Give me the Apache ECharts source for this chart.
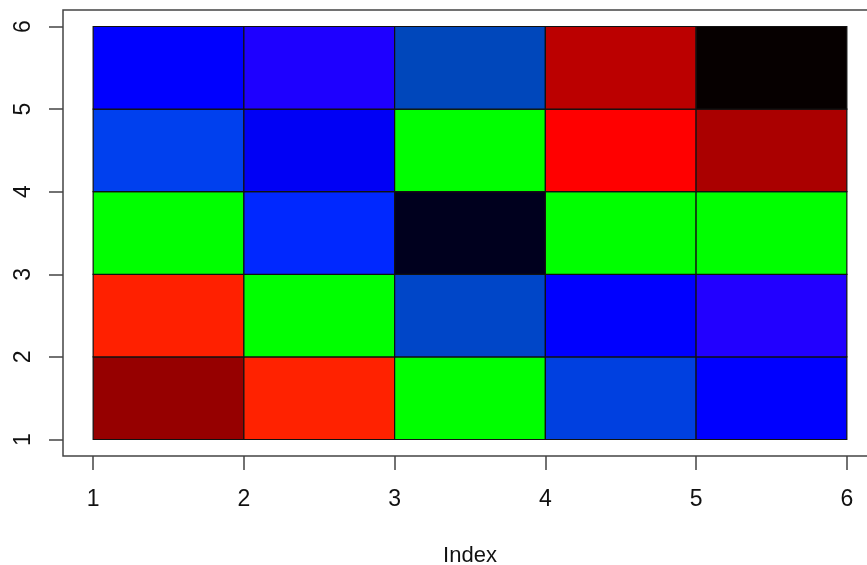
<!DOCTYPE html>
<html>
<head>
<meta charset="utf-8">
<script src="https://cdn.jsdelivr.net/npm/echarts@6/dist/echarts.min.js"></script>
<style>html,body{margin:0;padding:0;background:#fff;}#c{width:867px;height:565px;}</style>
</head>
<body>
<div id="c"></div>
<script>
// Cell edges (index values)
var xEdges = [1, 2, 3, 4, 5, 6];
var yEdges = [1, 2, 3, 4, 5, 6];
// Tick labels
var xTicks = [1, 2, 3, 4, 5, 6];
var yTicks = [1, 2, 3, 4, 5, 6];
// Cell colours, one row per y band from bottom (1-2) to top (5-6), columns left to right
var row1 = ['#960000', '#FF2200', '#00FF00', '#0040E0', '#0000FF'];
var row2 = ['#FF2000', '#00FF00', '#0046C8', '#0000FF', '#2200FF'];
var row3 = ['#00FF00', '#0028FF', '#00001E', '#00FF00', '#00FF00'];
var row4 = ['#0040EE', '#0000F5', '#00FF00', '#FF0000', '#AA0000'];
var row5 = ['#0000FF', '#1E00FF', '#0047BB', '#BB0000', '#060000'];
var rows = [row1, row2, row3, row4, row5];

var cells = [];
for (var r = 0; r < rows.length; r++) {
  for (var c = 0; c < rows[r].length; c++) {
    cells.push({ value: [xEdges[c], xEdges[c + 1], yEdges[r], yEdges[r + 1]], color: rows[r][c] });
  }
}

var chart = echarts.init(document.getElementById('c'), null, { renderer: 'canvas' });
var font = 'Liberation Sans, Arial, sans-serif';
chart.setOption({
  animation: false,
  grid: { left: 63, top: 10, width: 814, height: 446, show: true, borderColor: '#444', borderWidth: 1.5, backgroundColor: 'transparent', containLabel: false, outerBoundsMode: 'none' },
  xAxis: {
    type: 'value', min: 0.8, max: 6.2,
    axisLine: { show: false },
    splitLine: { show: false },
    axisTick: { show: true, length: 14, customValues: xTicks, lineStyle: { color: '#444', width: 1.5 } },
    axisLabel: { customValues: xTicks, margin: 32, fontSize: 23, color: '#111', fontFamily: font },
    name: 'Index', nameLocation: 'middle', nameGap: 89,
    nameTextStyle: { fontSize: 22, color: '#111', fontFamily: font }
  },
  yAxis: {
    type: 'value', min: 0.8, max: 6.2,
    axisLine: { show: false },
    splitLine: { show: false },
    axisTick: { show: true, length: 14, customValues: yTicks, lineStyle: { color: '#444', width: 1.5 } },
    axisLabel: { customValues: yTicks, rotate: 90, margin: 28, fontSize: 23, color: '#111', fontFamily: font }
  },
  series: [{
    type: 'custom',
    data: cells.map(function (d) { return { value: d.value, itemStyle: { color: d.color } }; }),
    renderItem: function (params, api) {
      var p0 = api.coord([api.value(0), api.value(2)]);
      var p1 = api.coord([api.value(1), api.value(3)]);
      return {
        type: 'rect',
        shape: { x: p0[0], y: p1[1], width: p1[0] - p0[0], height: p0[1] - p1[1] },
        style: { fill: api.visual('color'), stroke: '#111', lineWidth: 1.2 }
      };
    },
    encode: { x: [0, 1], y: [2, 3] }
  }]
});
</script>
</body>
</html>
